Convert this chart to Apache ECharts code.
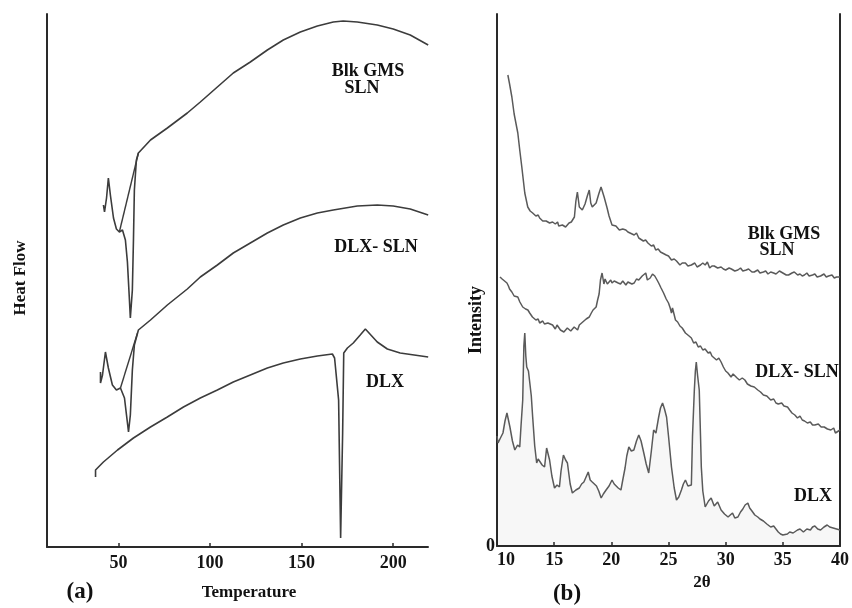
<!DOCTYPE html>
<html>
<head>
<meta charset="utf-8">
<script src="https://cdn.jsdelivr.net/npm/echarts@6/dist/echarts.min.js"></script>
<style>html,body{margin:0;padding:0;background:#fff}#c{width:852px;height:608px}</style>
</head>
<body>
<div id="c"></div>
<script>
// ---------- Panel (a): DSC, [temperature, heat flow (arb.)] ----------
const dscTicks = [50, 100, 150, 200];
const dscBlkGms = [[41.8,342],[42.4,335],[43.5,349],[44.5,369],[45.6,352],[47.3,329],[48.9,318],[50.5,315],[52.2,317],[53.8,307],[54.9,285],[56.0,247],[56.5,229],[57.6,257],[58.2,307],[58.7,357],[59.8,387],[60.9,394],[67.5,407],[76.7,419],[87.6,434],[94.7,445],[104,460],[112.7,474],[122,485],[131.3,497],[140,507],[149.3,515],[158.6,521],[167.3,525],[172.7,526],[180.4,525],[191.3,522],[200,518],[209.3,512],[219.1,502]];
const dscBlkGmsBase = [[50.5,315],[60.9,394]];
const dscDlxSln = [[40.2,175],[40.2,164],[41.3,172],[42.9,195],[44.5,179],[46.7,162],[48.9,157],[51.1,159],[53.3,149],[54.4,132],[55.5,115],[56.5,132],[57.6,177],[58.7,202],[60.9,217],[67.5,227],[76.7,242],[87.6,258],[94.7,270],[104,282],[112.7,294],[122,304],[131.3,314],[140,322],[149.3,329],[158.6,334],[167.3,337],[180.4,341],[191.3,342],[200,341],[209.3,338],[219.1,332]];
const dscDlxSlnBase = [[51.1,159],[60.4,214]];
const dscDlx = [[37.5,70],[37.5,77],[39.1,80],[41.8,85],[49.5,97],[58.2,109],[67.5,120],[76.7,130],[85.5,140],[94.7,149],[104,157],[112.7,165],[122,172],[131.3,179],[140,184],[149.3,188],[158.6,191],[166.8,193],[168,189],[170.2,147],[171.3,9],[172.4,114],[173,194],[175,199],[178.2,204],[182,212],[184.8,218],[191.3,205],[196.8,198],[203.8,194],[219.1,190]];

// ---------- Panel (b): XRD, [2theta, intensity (arb.)] ----------
const xrdTicks = [10, 15, 20, 25, 30, 35, 40];
const xrdBlkGms = [[10.95,471],[11.1,462],[11.3,449],[11.5,432],[11.82,413],[12.0,395],[12.17,379],[12.43,353],[12.69,339],[12.9,335],[13.12,333],[13.4,330],[13.6,331],[13.73,328],[14.0,325],[14.15,327],[14.3,325],[14.6,323],[14.86,324],[15.1,322],[15.3,324],[15.4,320],[15.72,321],[16.0,319],[16.3,323],[16.5,324],[16.77,329],[16.9,345],[17.03,354],[17.2,339],[17.46,336],[17.7,342],[17.9,350],[18.07,356],[18.2,343],[18.33,339],[18.5,341],[18.67,343],[18.9,352],[19.1,359],[19.37,349],[19.63,338],[19.8,330],[20.06,321],[20.4,320],[20.55,322],[20.7,316],[21.0,317],[21.27,316],[21.45,314],[21.6,312],[22.0,311],[22.2,313],[22.4,308],[22.8,305],[23.0,306],[23.2,303],[23.5,300],[23.7,301],[23.88,296],[24.1,297],[24.3,294],[24.8,291],[25.0,290],[25.26,286],[25.5,287],[25.7,285],[26.0,281],[26.2,283],[26.48,283],[26.7,280],[27.0,281],[27.3,283],[27.5,279],[27.8,281],[28.0,283],[28.21,281],[28.4,284],[28.6,278],[28.8,280],[29.0,280],[29.3,278],[29.6,279],[29.8,277],[30.0,276],[30.3,278],[30.5,277],[30.8,275],[31.07,276],[31.3,278],[31.5,275],[31.8,276],[32.0,277],[32.3,274],[32.5,274],[32.8,276],[33.0,273],[33.3,274],[33.5,275],[33.7,272],[33.94,274],[34.2,273],[34.4,272],[34.7,275],[35.0,273],[35.3,271],[35.5,271],[35.8,273],[36.0,274],[36.3,271],[36.5,272],[36.7,270],[36.89,271],[37.1,273],[37.3,270],[37.6,271],[37.8,272],[38.0,269],[38.3,270],[38.6,272],[38.8,269],[39.0,270],[39.3,271],[39.5,268],[39.7,269],[40,269]];
const xrdDlxSln = [[10.26,269],[10.45,267],[10.6,265],[10.87,263],[11.0,260],[11.1,257],[11.3,254],[11.5,250],[11.65,252],[11.82,249],[12.0,244],[12.25,239],[12.4,241],[12.5,237],[12.7,236],[12.86,233],[13.1,229],[13.25,231],[13.4,226],[13.6,227],[13.73,223],[14.0,225],[14.15,222],[14.3,220],[14.45,223],[14.6,222],[14.86,221],[15.0,219],[15.1,217],[15.25,221],[15.4,220],[15.55,216],[15.72,218],[15.85,214],[16.0,215],[16.15,218],[16.3,219],[16.45,215],[16.59,214],[16.75,219],[16.9,218],[17.05,216],[17.2,221],[17.35,220],[17.5,224],[17.65,223],[17.8,227],[17.95,226],[18.07,229],[18.25,233],[18.4,236],[18.55,235],[18.67,239],[18.8,246],[18.93,252],[19.05,266],[19.19,273],[19.35,262],[19.45,267],[19.54,268],[19.65,262],[19.8,263],[19.95,266],[20.06,263],[20.25,265],[20.4,266],[20.6,263],[20.8,262],[21.0,265],[21.27,261],[21.45,264],[21.6,265],[21.8,262],[22.0,263],[22.2,267],[22.4,266],[22.55,268],[22.7,270],[22.85,268],[23.01,273],[23.15,266],[23.27,264],[23.4,268],[23.5,270],[23.6,272],[23.7,274],[23.8,270],[23.9,268],[24.0,266],[24.14,263],[24.35,258],[24.45,256],[24.57,253],[24.8,247],[25.0,243],[25.15,238],[25.26,233],[25.35,238],[25.45,236],[25.61,226],[25.8,224],[26.0,220],[26.2,218],[26.48,213],[26.65,214],[26.8,210],[27.0,208],[27.2,203],[27.4,204],[27.6,199],[27.8,200],[28.0,196],[28.2,197],[28.47,193],[28.65,194],[28.8,190],[29.0,188],[29.2,186],[29.4,188],[29.6,184],[29.8,179],[30.0,175],[30.2,173],[30.47,169],[30.65,172],[30.8,171],[31.0,168],[31.2,166],[31.45,168],[31.68,166],[31.9,162],[32.2,160],[32.5,159],[32.81,156],[33.05,154],[33.3,151],[33.6,150],[33.94,146],[34.2,147],[34.4,143],[34.6,142],[34.9,143],[35.1,140],[35.41,139],[35.6,136],[35.8,133],[36.05,131],[36.28,128],[36.5,130],[36.7,126],[36.9,125],[37.15,123],[37.4,124],[37.6,121],[37.8,121],[38.1,122],[38.35,119],[38.62,119],[38.9,117],[39.2,116],[39.45,118],[39.6,113],[39.75,114],[40,116]];
const xrdDlx = [[10.0,110],[10.09,103],[10.3,108],[10.52,113],[10.7,125],[10.87,133],[11.0,126],[11.13,119],[11.35,105],[11.56,96],[11.8,101],[11.99,99],[12.1,120],[12.25,146],[12.35,200],[12.43,213],[12.52,190],[12.6,179],[12.75,175],[12.86,173],[13.0,150],[13.12,129],[13.3,100],[13.47,83],[13.6,87],[13.73,86],[13.95,81],[14.16,79],[14.34,98],[14.6,86],[14.8,70],[15.03,58],[15.25,61],[15.46,59],[15.6,75],[15.81,91],[16.0,86],[16.16,83],[16.4,62],[16.59,53],[16.9,56],[17.2,58],[17.4,62],[17.6,64],[17.98,74],[18.15,66],[18.33,64],[18.5,62],[18.7,60],[18.9,55],[19.11,48],[19.3,52],[19.54,56],[19.8,60],[20.06,66],[20.25,62],[20.4,60],[20.6,58],[20.84,56],[21.0,66],[21.2,78],[21.35,90],[21.53,99],[21.75,95],[21.97,96],[22.2,105],[22.4,111],[22.6,105],[22.84,93],[23.05,82],[23.27,73],[23.5,95],[23.7,116],[23.9,113],[24.14,129],[24.3,138],[24.48,143],[24.65,137],[24.83,129],[25.0,110],[25.26,79],[25.5,58],[25.7,46],[25.9,49],[26.13,56],[26.3,62],[26.48,66],[26.7,60],[26.85,58],[27.0,61],[27.1,110],[27.26,156],[27.35,175],[27.43,184],[27.55,170],[27.69,156],[27.8,110],[27.87,79],[28.0,55],[28.21,39],[28.5,45],[28.73,48],[29.0,40],[29.3,44],[29.6,36],[29.9,32],[30.21,29],[30.4,31],[30.6,33],[30.8,28],[31.07,29],[31.3,34],[31.5,37],[31.7,41],[31.94,43],[32.1,38],[32.3,35],[32.55,31],[32.81,29],[33.0,27],[33.3,25],[33.6,22],[33.94,19],[34.2,20],[34.4,17],[34.6,14],[34.8,12],[35.0,11],[35.15,9],[35.4,12],[35.6,14],[35.9,13],[36.28,16],[36.5,17],[36.8,14],[37.1,17],[37.41,16],[37.6,19],[37.8,20],[38.05,17],[38.3,16],[38.6,19],[38.88,21],[39.1,19],[39.4,18],[39.7,17],[40,16]];

const SERIF = '"Liberation Serif", "DejaVu Serif", serif';
const axisColor = '#2a2a2a';
const chart = echarts.init(document.getElementById('c'), null, {renderer: 'canvas'});

function lineSeries(data, xi, yi, color, width, extra) {
  return Object.assign({
    type: 'line', xAxisIndex: xi, yAxisIndex: yi, data: data,
    showSymbol: false, symbol: 'none', smooth: false, silent: true,
    lineStyle: {color: color, width: width}
  }, extra || {});
}

function txt(x, y, text, size, rot) {
  return {
    type: 'text', x: x, y: y, rotation: rot || 0,
    style: {text: text, font: 'bold ' + size + 'px ' + SERIF, fill: '#111', align: 'center', verticalAlign: 'middle', lineHeight: size * 0.95}
  };
}

const option = {
  animation: false,
  backgroundColor: '#fff',
  grid: [
    {left: 47, top: 14, width: 381, height: 533},
    {left: 497, top: 14, width: 346, height: 532}
  ],
  xAxis: [
    {gridIndex: 0, type: 'value', min: 11, max: 219,
     axisLine: {show: true, onZero: false, lineStyle: {color: axisColor, width: 2}},
     axisTick: {show: true, inside: true, length: 4, customValues: dscTicks, lineStyle: {color: axisColor, width: 1.5}},
     axisLabel: {show: true, customValues: dscTicks, margin: 7, color: '#151515', fontFamily: SERIF, fontWeight: 'bold', fontSize: 18},
     splitLine: {show: false}},
    {gridIndex: 1, type: 'value', min: 10, max: 40, interval: 5,
     axisLine: {show: true, onZero: false, lineStyle: {color: axisColor, width: 2}},
     axisTick: {show: true, inside: true, length: 4, lineStyle: {color: axisColor, width: 1.5}},
     axisLabel: {show: true, customValues: xrdTicks, margin: 5, alignMinLabel: 'left', color: '#151515', fontFamily: SERIF, fontWeight: 'bold', fontSize: 18},
     splitLine: {show: false}}
  ],
  yAxis: [
    {gridIndex: 0, type: 'value', min: 0, max: 533,
     axisLine: {show: true, onZero: false, lineStyle: {color: axisColor, width: 2}},
     axisTick: {show: false}, axisLabel: {show: false}, splitLine: {show: false}},
    {gridIndex: 1, type: 'value', min: 0, max: 532,
     axisLine: {show: true, onZero: false, lineStyle: {color: axisColor, width: 2}},
     axisTick: {show: false},
     axisLabel: {show: true, customValues: [0], margin: 2, color: '#151515', fontFamily: SERIF, fontWeight: 'bold', fontSize: 18},
     splitLine: {show: false}},
    {gridIndex: 1, type: 'value', min: 0, max: 532, position: 'right',
     axisLine: {show: true, onZero: false, lineStyle: {color: axisColor, width: 2}},
     axisTick: {show: false}, axisLabel: {show: false}, splitLine: {show: false}}
  ],
  series: [
    lineSeries(dscBlkGms, 0, 0, '#3c3c3c', 1.6),
    lineSeries(dscBlkGmsBase, 0, 0, '#3c3c3c', 1.4),
    lineSeries(dscDlxSln, 0, 0, '#3c3c3c', 1.6),
    lineSeries(dscDlxSlnBase, 0, 0, '#3c3c3c', 1.4),
    lineSeries(dscDlx, 0, 0, '#3c3c3c', 1.6),
    lineSeries(xrdBlkGms, 1, 1, '#5a5a5a', 1.5),
    lineSeries(xrdDlxSln, 1, 1, '#5a5a5a', 1.5),
    lineSeries(xrdDlx, 1, 1, '#5a5a5a', 1.5, {areaStyle: {color: 'rgba(0,0,0,0.045)'}})
  ],
  graphic: [
    txt(368, 71, 'Blk GMS', 18), txt(362, 88, 'SLN', 18),
    txt(376, 247, 'DLX- SLN', 18),
    txt(385, 382, 'DLX', 18),
    txt(784, 234, 'Blk GMS', 18), txt(777, 250, 'SLN', 18),
    txt(797, 372, 'DLX- SLN', 18),
    txt(813, 496, 'DLX', 18),
    txt(21, 278, 'Heat Flow', 17, Math.PI / 2),
    txt(476, 320, 'Intensity', 18, Math.PI / 2),
    txt(249, 593, 'Temperature', 17),
    txt(80, 592, '(a)', 23),
    txt(702, 583, '2θ', 17),
    txt(567, 594, '(b)', 23)
  ]
};
chart.setOption(option);
</script>
</body>
</html>
